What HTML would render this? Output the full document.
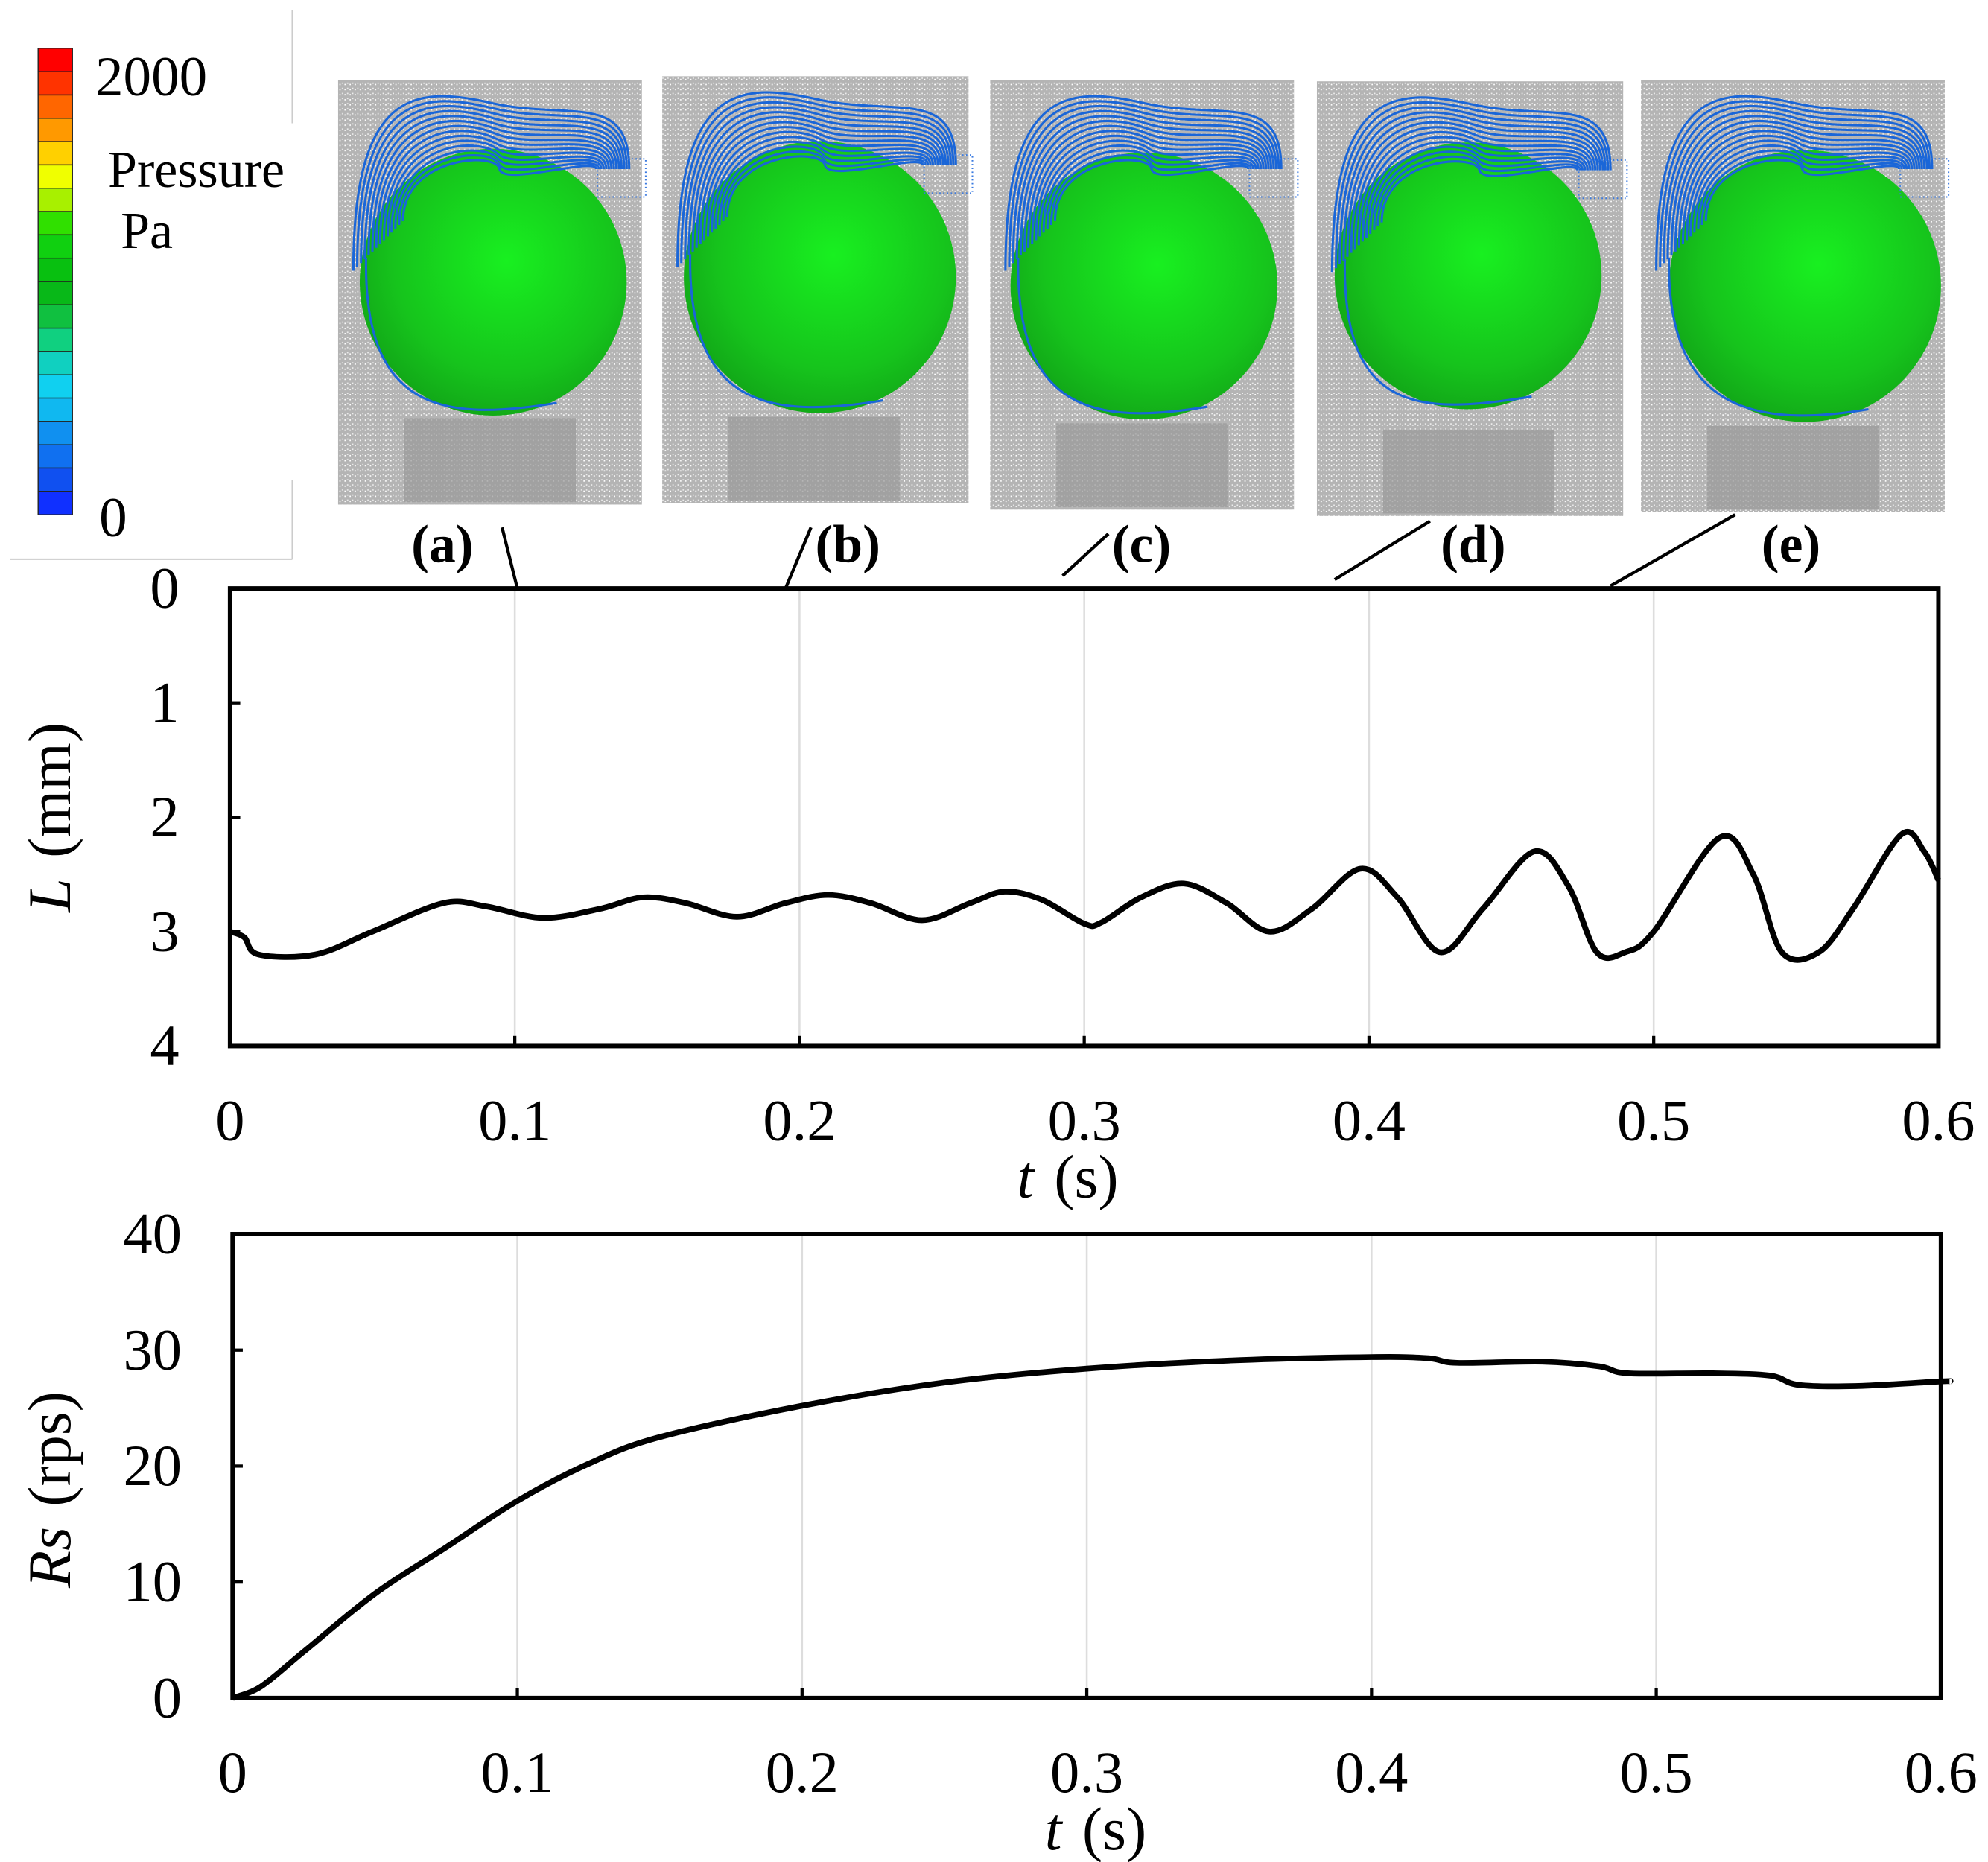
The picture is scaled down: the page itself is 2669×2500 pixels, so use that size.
<!DOCTYPE html>
<html><head><meta charset="utf-8"><style>
html,body{margin:0;padding:0;background:#fff;}
svg{display:block;font-family:"Liberation Serif",serif;}
</style></head><body>
<svg id="fig" width="2669" height="2500" viewBox="0 0 1564 1465" preserveAspectRatio="none" xmlns="http://www.w3.org/2000/svg">
<defs>
<radialGradient id="ball" cx="0.55" cy="0.42" r="0.6">
<stop offset="0" stop-color="#18f020"/><stop offset="0.7" stop-color="#16c41c"/><stop offset="1" stop-color="#12a818"/>
</radialGradient>
<pattern id="mesh" width="4" height="4" patternUnits="userSpaceOnUse">
<rect width="4" height="4" fill="#b4b4b4"/><rect x="1" y="1" width="1" height="1" fill="#eee"/><rect x="3" y="2" width="1" height="1" fill="#fff"/>
</pattern>
</defs>
<g id="colorbar"></g>
<g stroke="#ccc" stroke-width="1.2">
<line x1="230" y1="8" x2="230" y2="97"/><line x1="230" y1="378" x2="230" y2="440"/><line x1="8" y1="440" x2="230" y2="440"/>
</g>
<text x="75" y="75" font-size="44">2000</text>
<text x="85" y="147" font-size="41">Pressure</text>
<text x="95" y="195" font-size="41">Pa</text>
<text x="78" y="422" font-size="44">0</text>
<g id="panels"></g>
<g id="chartL"></g>
<g id="chartR"></g>
</svg>
<script>
const NS="http://www.w3.org/2000/svg";
function mk(tag,attrs,parent){const e=document.createElementNS(NS,tag);for(const k in attrs)e.setAttribute(k,attrs[k]);parent.appendChild(e);return e;}
const cbColors=["#ff0000","#ff3300","#ff6600","#ff9900","#ffd000","#f0ff00","#a8f000","#30e000","#10d010","#08c010","#08b818","#10c040","#10d080","#10d0c0","#10d0f0","#10b8f0","#1090f0","#1070f0","#1050f0","#1030ff"];
const cb=document.getElementById('colorbar');
const cbTop=38,cbBot=405,cbH=(cbBot-cbTop)/cbColors.length;
cbColors.forEach((c,i)=>{const r=mk('rect',{x:30,y:cbTop+i*cbH,width:27,height:cbH,fill:c,stroke:'#222','stroke-width':0.8},cb);

});
const panels=[
{l:'(a)',x:266,y:63,w:239,h:334,cx:388,cy:222,r:105,lx:348,line:[395,415,407,463]},
{l:'(b)',x:521,y:60,w:241,h:336,cx:645,cy:218,r:107,lx:667,line:[638,415,618,463]},
{l:'(c)',x:779,y:63,w:239,h:338,cx:900,cy:225,r:105,lx:898,line:[872,420,836,453]},
{l:'(d)',x:1036,y:64,w:241,h:342,cx:1155,cy:217,r:105,lx:1159,line:[1125,410,1050,456]},
{l:'(e)',x:1291,y:63,w:239,h:340,cx:1420,cy:225,r:107,lx:1409,line:[1365,405,1267,461]}];
const pg=document.getElementById('panels');
panels.forEach(p=>{
const g=mk('g',{},pg);


mk('rect',{x:p.x,y:p.y,width:p.w,height:p.h,fill:'url(#mesh)'},g);
mk('rect',{x:p.x+52,y:p.y+p.h-68,width:135,height:66,fill:'#999',opacity:0.7},g);
mk('circle',{cx:p.cx,cy:p.cy,r:p.r,fill:'url(#ball)'},g);
for(let i=0;i<14;i++){
const y0=p.y+8+i*4, xs=p.x+12+i*3, xe=p.x+p.w-10-i*2;
mk('path',{d:`M${xs},${p.y+150-i*3} C${xs},${y0} ${p.x+60+i*5},${y0-4} ${(xs+xe)/2},${y0+10} S${xe},${y0} ${xe},${p.y+70}`,fill:'none',stroke:'#1a66d8','stroke-width':1.8},g);}
mk('path',{d:`M${p.x+22},${p.y+140} C${p.x+20},${p.y+260} ${p.cx-40},${p.cy+p.r+5} ${p.cx+50},${p.cy+p.r-10}`,fill:'none',stroke:'#1a66d8','stroke-width':1.8},g);
mk('rect',{x:p.x+p.w-35,y:p.y+62,width:38,height:30,fill:'none',stroke:'#3a7ae0','stroke-width':1.2,'stroke-dasharray':'1 2'},g);
const t=mk('text',{x:p.lx,y:442,'font-size':42,'font-weight':'bold','text-anchor':'middle'},g);t.textContent=p.l;


const ln=mk('line',{x1:p.line[0],y1:p.line[1],x2:p.line[2],y2:p.line[3],stroke:'#000','stroke-width':2.5},g);


});
const lTime=[0,0.005,0.01,0.03,0.05,0.075,0.09,0.11,0.13,0.145,0.16,0.178,0.195,0.21,0.225,0.243,0.26,0.272,0.285,0.3,0.306,0.32,0.335,0.35,0.365,0.38,0.397,0.41,0.425,0.44,0.458,0.47,0.48,0.49,0.5,0.523,0.535,0.545,0.558,0.57,0.587,0.595,0.6];
const lValues=[3.0,3.05,3.2,3.2,3.0,2.75,2.78,2.88,2.8,2.7,2.75,2.87,2.75,2.68,2.75,2.9,2.75,2.65,2.72,2.93,2.92,2.7,2.58,2.75,3.0,2.8,2.45,2.7,3.18,2.8,2.3,2.6,3.18,3.18,3.0,2.18,2.5,3.18,3.18,2.8,2.15,2.3,2.55];
const rTime=[0,0.01,0.025,0.05,0.075,0.1,0.125,0.15,0.2,0.25,0.3,0.35,0.4,0.42,0.43,0.46,0.48,0.49,0.52,0.54,0.55,0.57,0.6,0.603];
const rValues=[0,1,4,9,13,17,20.2,22.5,25.2,27.2,28.4,29.1,29.4,29.3,28.9,29.0,28.6,28.0,28.0,27.8,27.0,26.9,27.3,27.3];
const xTicks=["0","0.1","0.2","0.3","0.4","0.5","0.6"];
const lTicks=["0","1","2","3","4"];
const rTicks=["0","10","20","30","40"];
function spline(pts){let d=`M${pts[0][0]},${pts[0][1]}`;for(let i=0;i<pts.length-1;i++){const p0=pts[Math.max(0,i-1)],p1=pts[i],p2=pts[i+1],p3=pts[Math.min(pts.length-1,i+2)];
d+=` C${p1[0]+(p2[0]-p0[0])/6},${p1[1]+(p2[1]-p0[1])/6} ${p2[0]-(p3[0]-p1[0])/6},${p2[1]-(p3[1]-p1[1])/6} ${p2[0]},${p2[1]}`;}return d;}
function chart(gid,name,box,ymin,ymax,yTicks,inverted,xs,ys,ytitle,ysub,xtitleY,xtitleX){
const g=document.getElementById(gid);


const X=t=>box.x0+(t/0.6)*(box.x1-box.x0);
const Y=v=>inverted?box.y0+(v-ymin)/(ymax-ymin)*(box.y1-box.y0):box.y1-(v-ymin)/(ymax-ymin)*(box.y1-box.y0);
xTicks.forEach((s,i)=>{const v=parseFloat(s);
if(i>0&&i<xTicks.length-1){const gl=mk('line',{x1:X(v),x2:X(v),y1:box.y0,y2:box.y1,stroke:'#ddd','stroke-width':1.5},g);

}
const tk=mk('line',{x1:X(v),x2:X(v),y1:box.y1,y2:box.y1-8,stroke:'#000','stroke-width':2.5},g);


const t=mk('text',{x:X(v),y:box.y1+74,'font-size':46,'text-anchor':'middle'},g);t.textContent=s;

});
yTicks.forEach(s=>{const v=parseFloat(s);
const tk=mk('line',{x1:box.x0,x2:box.x0+8,y1:Y(v),y2:Y(v),stroke:'#000','stroke-width':2.5},g);


const t=mk('text',{x:box.x0-40,y:Y(v)+15,'font-size':46,'text-anchor':'end'},g);t.textContent=s;

});
const fr=mk('rect',{x:box.x0,y:box.y0,width:box.x1-box.x0,height:box.y1-box.y0,fill:'none',stroke:'#000','stroke-width':3.5},g);


const pts=xs.map((t,i)=>[X(t),Y(ys[i])]);
const ln=mk('path',{d:spline(pts),fill:'none',stroke:'#000','stroke-width':4.5,'stroke-linejoin':'round'},g);


const yt=mk('text',{x:0,y:0,'font-size':48,'text-anchor':'middle',transform:`translate(55,${ytitle.cy}) rotate(-90)`},g);
yt.innerHTML=`<tspan font-style="italic">${ysub}</tspan><tspan dx="16">(${ytitle.u})</tspan>`;


const xt=mk('text',{x:xtitleX,y:xtitleY,'font-size':48,'text-anchor':'middle'},g);
xt.innerHTML='<tspan font-style="italic">t</tspan><tspan dx="16">(s)</tspan>';


}
chart('chartL','displacement-chart',{x0:181,x1:1525,y0:463,y1:823},0,4,lTicks,true,lTime,lValues,{cy:643,u:'mm'},'L',942,840);
chart('chartR','rotation-speed-chart',{x0:183,x1:1527,y0:971,y1:1336},0,40,rTicks,false,rTime,rValues,{cy:1172,u:'rps'},'Rs',1455,862);
</script>
</body></html>
